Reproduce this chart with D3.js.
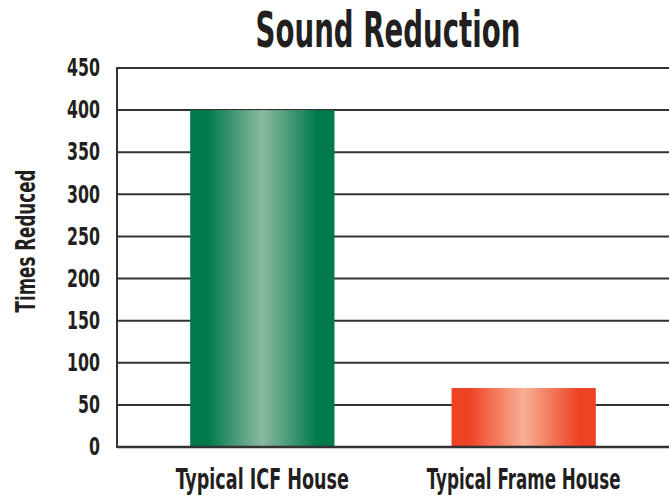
<!DOCTYPE html>
<html><head><meta charset="utf-8">
<script src="https://cdn.jsdelivr.net/npm/d3@7"></script>
<style>body{margin:0;background:#fff}svg{display:block}</style>
</head><body>
<svg id="c" width="669" height="499"></svg>
<script>
const categories = ["Typical ICF House", "Typical Frame House"];
const values = [400, 70];
const yTicks = [0, 50, 100, 150, 200, 250, 300, 350, 400, 450];
const title = "Sound Reduction";
const yLabel = "Times Reduced";

const W = 669, H = 499;
const m = {left: 117, right: 0, top: 68, bottom: 52};
const svg = d3.select("#c");
const font = "'DejaVu Sans Condensed','DejaVu Sans',sans-serif";
const ink = "#231f20";

// horizontally squeeze a text (about its anchor) to a target width
function squeeze(node, target, pre) {
  const w = node.getComputedTextLength();
  const k = Math.min(1, target / w);
  node.setAttribute("transform", `${pre || ""} scale(${k},1)`);
}

const y = d3.scaleLinear().domain([0, 450]).range([H - m.bottom, m.top]);
const x = d3.scaleBand().domain(categories).range([m.left, W - m.right]).paddingInner(0.448).paddingOuter(0.28);

const defs = svg.append("defs");
const grads = [["g0", "#007a4a", "#8cb9a1"], ["g1", "#ee4224", "#f8b095"]];
grads.forEach(([id, edge, mid]) => {
  const g = defs.append("linearGradient").attr("id", id).attr("x1", 0).attr("x2", 1).attr("y1", 0).attr("y2", 0);
  g.append("stop").attr("offset", "0%").attr("stop-color", edge);
  g.append("stop").attr("offset", "12%").attr("stop-color", edge);
  g.append("stop").attr("offset", "50%").attr("stop-color", mid);
  g.append("stop").attr("offset", "88%").attr("stop-color", edge);
  g.append("stop").attr("offset", "100%").attr("stop-color", edge);
});

// gridlines
svg.append("g").selectAll("line").data(yTicks).join("line")
  .attr("x1", m.left).attr("x2", W).attr("y1", d => y(d)).attr("y2", d => y(d))
  .attr("stroke", "#333").attr("stroke-width", 2);

// bars
svg.append("g").selectAll("rect").data(values).join("rect")
  .attr("x", (d, i) => x(categories[i])).attr("width", x.bandwidth())
  .attr("y", d => y(d)).attr("height", d => y(0) - y(d))
  .attr("fill", (d, i) => `url(#g${i})`);

// baseline & left axis line
svg.append("line").attr("x1", m.left).attr("x2", W).attr("y1", y(0)).attr("y2", y(0)).attr("stroke", "#333").attr("stroke-width", 2.5);
svg.append("line").attr("x1", m.left).attr("x2", m.left).attr("y1", y(450) - 1).attr("y2", y(0) + 1).attr("stroke", "#333").attr("stroke-width", 2);

// y tick labels
const ya = d3.axisLeft(y).tickValues(yTicks).tickSize(0).tickPadding(0);
const gy = svg.append("g").attr("transform", `translate(${m.left},0)`).call(ya);
gy.select(".domain").remove();
gy.selectAll("text").attr("font-family", font).attr("font-weight", "bold").attr("font-size", 24).attr("fill", ink)
  .attr("x", 0)
  .each(function(d) { squeeze(this, String(d).length * 11, "translate(-17,0)"); });

// x labels
const xa = d3.axisBottom(x).tickSize(0).tickPadding(21);
const gx = svg.append("g").attr("transform", `translate(0,${y(0)})`).call(xa);
gx.select(".domain").remove();
gx.selectAll("text").attr("font-family", font).attr("font-weight", "bold").attr("font-size", 29).attr("fill", ink)
  .each(function(d) { squeeze(this, d.length * 10.2); });

// title
svg.append("text").attr("x", 0).attr("y", 0).attr("text-anchor", "middle")
  .attr("font-family", font).attr("font-weight", "bold").attr("font-size", 49).attr("fill", ink)
  .text(title)
  .each(function() { squeeze(this, 265, "translate(388,47)"); });

// y label
svg.append("text").attr("text-anchor", "middle")
  .attr("font-family", font).attr("font-weight", "bold").attr("font-size", 27).attr("fill", ink)
  .text(yLabel)
  .each(function() { squeeze(this, 143, "translate(35,241) rotate(-90)"); });
</script>
</body></html>
